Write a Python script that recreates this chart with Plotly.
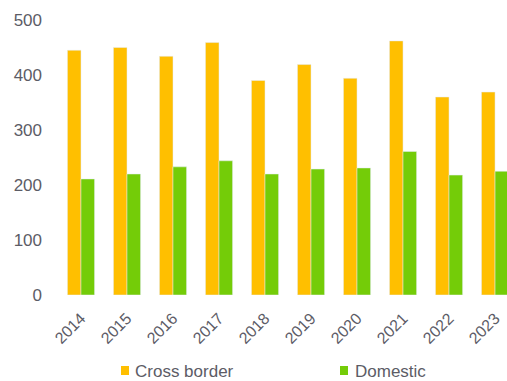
import plotly.graph_objects as go

years = ["2014", "2015", "2016", "2017", "2018", "2019", "2020", "2021", "2022", "2023"]
cross_border = [445, 450, 434, 459, 390, 419, 394, 462, 360, 369]
domestic = [211, 220, 233, 244, 220, 229, 231, 261, 218, 225]
series_names = ["Cross border", "Domestic"]
series_colors = ["#FFBF00", "#74CC08"]

fig = go.Figure()
fig.add_trace(go.Bar(x=years, y=cross_border, name=series_names[0], marker_color=series_colors[0]))
fig.add_trace(go.Bar(x=years, y=domestic, name=series_names[1], marker_color=series_colors[1]))

text_color = "#5C5C66"
font_family = "Liberation Sans, Arial, sans-serif"

# custom legend (compact symbol/text spacing like the original)
legend_text_x = [0.1726, 0.6593]
legend_sq_x = [(0.146, 0.1637), (0.6305, 0.6482)]
annotations = []
shapes = []
for name, color, tx, (sx0, sx1) in zip(series_names, series_colors, legend_text_x, legend_sq_x):
    annotations.append(dict(text=name, x=tx, y=-0.2764, xref="paper", yref="paper",
                            xanchor="left", yanchor="middle", showarrow=False,
                            font=dict(size=17, color=text_color, family=font_family)))
    shapes.append(dict(type="rect", xref="paper", yref="paper", x0=sx0, x1=sx1,
                       y0=-0.2909, y1=-0.2582, fillcolor=color, line=dict(width=0)))

fig.update_layout(
    width=507, height=381,
    margin=dict(l=55, r=0, t=20, b=86),
    paper_bgcolor="white", plot_bgcolor="white",
    barmode="group", bargap=0.41, bargroupgap=0,
    font=dict(family=font_family, size=17, color=text_color),
    showlegend=False,
    annotations=annotations,
    shapes=shapes,
    xaxis=dict(range=[-0.565, 9.26], tickangle=-45, showgrid=False, zeroline=False,
               showline=False, ticks="", ticklabelstandoff=10,
               tickfont=dict(size=16, color=text_color)),
    yaxis=dict(range=[0, 500], tickvals=[0, 100, 200, 300, 400, 500], showgrid=False,
               zeroline=False, showline=False, ticks="", ticklabelstandoff=12,
               tickfont=dict(size=17, color=text_color)),
)
fig.write_html("out.html")
